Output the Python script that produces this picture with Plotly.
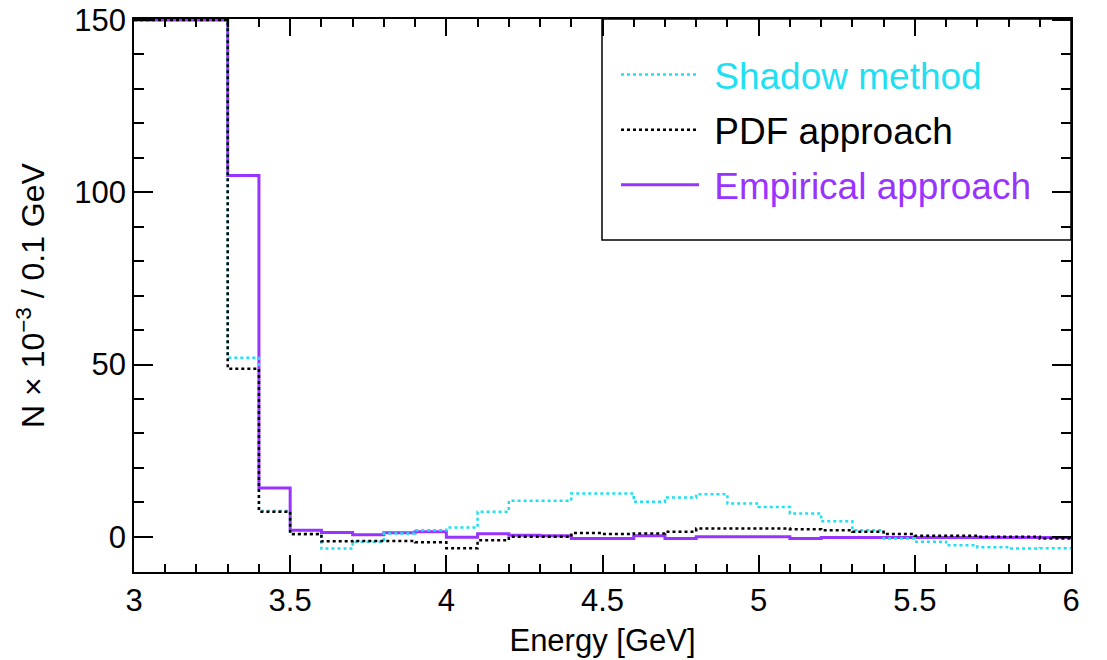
import plotly.graph_objects as go

# Bin edges (GeV), 0.1 GeV bins from 3.0 to 6.0
bin_edges = [3.0, 3.1, 3.2, 3.3, 3.4, 3.5, 3.6, 3.7, 3.8, 3.9, 4.0,
             4.1, 4.2, 4.3, 4.4, 4.5, 4.6, 4.7, 4.8, 4.9, 5.0,
             5.1, 5.2, 5.3, 5.4, 5.5, 5.6, 5.7, 5.8, 5.9, 6.0]

# Bin contents (N x 1e-3 / 0.1 GeV); first bins are off-scale (clipped at 150)
shadow = [150, 150, 150, 52.0, 7.5, 0.7, -3.4, -1.4, 1.0, 1.9,
          2.7, 7.3, 10.5, 10.5, 12.6, 12.6, 10.2, 11.4, 12.4, 9.7,
          8.7, 6.8, 4.5, 1.9, -0.5, -1.4, -2.4, -3.0, -3.4, -3.3]
pdf = [150, 150, 150, 48.8, 7.3, 0.8, -1.3, -1.2, -1.2, -1.6,
       -3.3, -1.0, 0.0, 0.0, 1.1, 0.8, 1.0, 1.5, 2.4, 2.4,
       2.4, 2.2, 1.9, 1.5, 0.8, 0.3, 0.3, 0.0, 0.0, -0.5]
empirical = [150, 150, 150, 104.9, 14.2, 1.95, 1.3, 0.6, 1.2, 1.5,
             -0.1, 0.9, 0.5, 0.3, -0.5, -0.5, 0.3, -0.5, 0.0, 0.0,
             0.0, -0.5, -0.2, -0.2, -0.2, -0.2, -0.2, -0.2, -0.2, -0.2]

x_ticks = [3, 3.5, 4, 4.5, 5, 5.5, 6]
x_ticklabels = ["3", "3.5", "4", "4.5", "5", "5.5", "6"]
y_ticks = [0, 50, 100, 150]
y_ticklabels = ["0", "50", "100", "150"]

CYAN = "#1FE0F2"
PURPLE = "#9933FF"
BLACK = "#000000"
FONT = "Liberation Sans, Arial, Helvetica, sans-serif"


def steps(vals):
    return list(vals) + [vals[-1]]


fig = go.Figure()
fig.add_trace(go.Scatter(
    x=bin_edges, y=steps(empirical), mode="lines", line_shape="hv",
    line=dict(color=PURPLE, width=3),
    name=f"&nbsp;<span style='color:{PURPLE}'>Empirical approach</span>",
    legendrank=3, legendgroup="c"))
fig.add_trace(go.Scatter(
    x=bin_edges, y=steps(shadow), mode="lines", line_shape="hv",
    line=dict(color=CYAN, width=2.5, dash="dot"),
    name=f"&nbsp;<span style='color:{CYAN}'>Shadow method</span>",
    legendrank=1, legendgroup="a"))
fig.add_trace(go.Scatter(
    x=bin_edges, y=steps(pdf), mode="lines", line_shape="hv",
    line=dict(color=BLACK, width=2.5, dash="dot"),
    name="&nbsp;PDF approach",
    legendrank=2, legendgroup="b"))

axis_common = dict(
    showline=True, linecolor="black", linewidth=1.5, mirror="ticks",
    ticks="inside", tickcolor="black", tickwidth=1.5,
    showgrid=False, zeroline=False, automargin=False,
    tickfont=dict(family=FONT, size=31, color="black"),
)

fig.update_xaxes(
    range=[3, 6], tickvals=x_ticks, ticktext=x_ticklabels, ticklen=17,
    minor=dict(dtick=0.1, ticklen=8, ticks="inside", tickcolor="black", tickwidth=1.5),
    title=dict(text="Energy [GeV]", font=dict(family=FONT, size=31, color="black"), standoff=12),
    **axis_common)
fig.update_yaxes(
    range=[-10.2, 150.3], tickvals=y_ticks, ticktext=y_ticklabels, ticklen=19,
    minor=dict(tickvals=[-10, 10, 20, 30, 40, 60, 70, 80, 90, 110, 120, 130, 140],
               ticklen=10, ticks="inside", tickcolor="black", tickwidth=1.5),
    title=dict(text="N × 10<sup>−3</sup> / 0.1 GeV", font=dict(family=FONT, size=32, color="black"), standoff=20),
    **axis_common)

# legend frame
fig.add_shape(type="rect", xref="paper", yref="paper",
              x0=(602 - 134) / 937, x1=1.0, y0=(572 - 240) / 553, y1=1.0,
              line=dict(color="black", width=1.5), fillcolor="rgba(0,0,0,0)")

fig.update_layout(
    width=1107, height=660,
    margin=dict(l=134, r=36, t=19, b=88),
    paper_bgcolor="white", plot_bgcolor="white",
    font=dict(family=FONT, color="black"),
    legend=dict(x=(616 - 134) / 937, y=(572 - 44) / 553, xanchor="left", yanchor="top",
                bgcolor="rgba(0,0,0,0)", borderwidth=0,
                font=dict(family=FONT, size=37),
                itemwidth=78, tracegroupgap=4, traceorder="grouped"),
    showlegend=True,
)

fig.write_html("out.html")
